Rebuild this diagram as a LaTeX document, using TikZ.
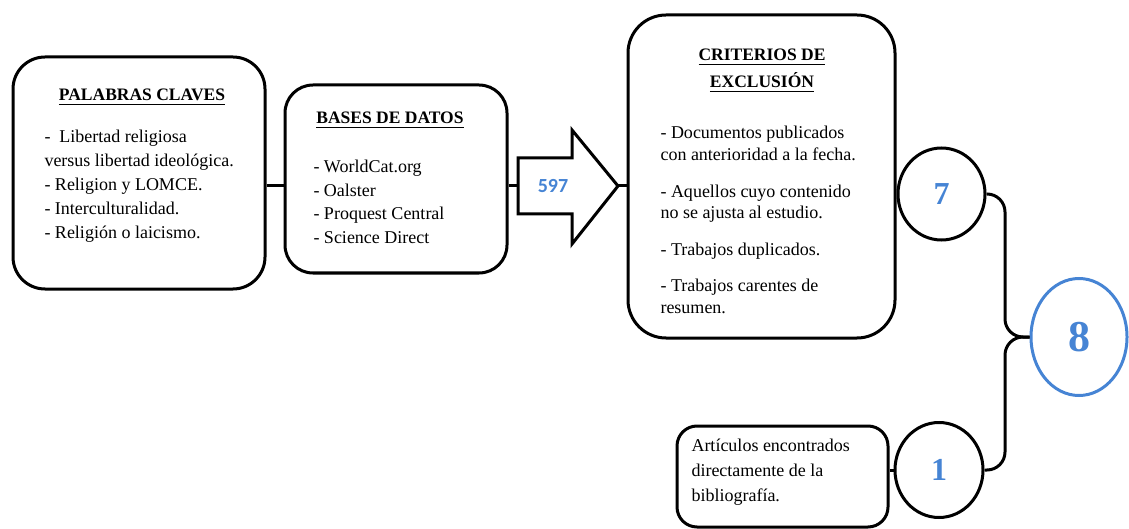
\documentclass[tikz,border=0pt]{standalone}
\usepackage{fontspec}
\setmainfont{Liberation Serif}
\newfontfamily\numfont{Carlito}
\usetikzlibrary{positioning,shapes.geometric}
\definecolor{numblue}{RGB}{70,132,212}
\newcommand\hdline[1]{\leavevmode\vtop{\hbox{#1}\kern2.5pt\hrule height 1.3pt}}

\begin{document}
\begin{tikzpicture}
% Style
[
    x=1pt, y=-1pt, line width=3pt,
    font=\fontsize{18}{22}\selectfont,
    box/.style={draw, shape=rectangle, rounded corners=#1, inner sep=0pt},
    head/.style={font=\fontsize{17.5}{22}\selectfont\bfseries, anchor=base, inner sep=0pt},
    item/.style={anchor=base west, inner sep=0pt},
    count/.style={draw, shape=ellipse, inner sep=0pt, text=numblue,
        font=\fontsize{#1}{#1}\selectfont\bfseries}
]

\useasboundingbox (0,0) rectangle (1129,529);

%=================================== Boxes ===================================
{
    \node[box=32pt, minimum width=252pt, minimum height=232pt] (kw) at (139,173) {};
    \node[box=28pt, minimum width=222pt, minimum height=188pt] (db) at (396,179) {};
    \node[box=38pt, minimum width=267pt, minimum height=323pt] (ex) at (761.5,176.5) {};
    \node[box=20pt, minimum width=211pt, minimum height=101pt] (art) at (782.5,476.5) {};

    \node[head] (kw-head) at (142,101) {\hdline{PALABRAS CLAVES}};
    \node[head] (db-head) at (390,124) {\hdline{BASES DE DATOS}};
    \node[head] (ex-head1) at (762,61) {\hdline{CRITERIOS DE}};
    \node[head] (ex-head2) at (762,88) {\hdline{EXCLUSIÓN}};

    \foreach \t [count=\i] in {{- \ Libertad religiosa}, versus libertad ideológica.,
        - Religion y LOMCE., - Interculturalidad., - Religión o laicismo.} {
        \node[item] (kw-\i) at (43,119+24*\i) {\t};
    }
    \foreach \t [count=\i] in {- WorldCat.org, - Oalster, - Proquest Central, - Science Direct} {
        \node[item] (db-\i) at (312,149.5+23.5*\i) {\t};
    }
    \foreach \y/\t [count=\i] in {139/- Documentos publicados, 161/con anterioridad a la fecha.,
        198/- Aquellos cuyo contenido, 219/no se ajusta al estudio.,
        256/- Trabajos duplicados., 291/- Trabajos carentes de, 313/resumen.} {
        \node[item] (ex-\i) at (659,\y) {\t};
    }
    \foreach \t [count=\i] in {Artículos encontrados, directamente de la, bibliografía.} {
        \node[item] (art-\i) at (690,426+25*\i) {\t};
    }
}
%=================================== Arrow ===================================
{
    \coordinate (ar-tail) at (518,186);
    \coordinate (ar-tip) at (618,186);
    \draw[line join=miter] (ar-tail) -- ++(0,-28) -- ++(54,0) -- ++(0,-28) -- (ar-tip)
        -- ++(-46,58) -- ++(0,-30) -- ++(-54,0) -- cycle;
    \node[text=numblue, font=\numfont\bfseries\fontsize{20}{20}\selectfont] (n597) at (553,186) {597};

    \draw (kw.east |- ar-tail) -- (db.west |- ar-tail);
    \draw (db.east |- ar-tail) -- (ar-tail);
    \draw (ar-tip) -- (ar-tip -| ex.west);
}
%================================== Counts ===================================
{
    \node[count=32, minimum width=87pt, minimum height=92pt] (c7) at (941.5,194) {7};
    \node[count=32, minimum width=88pt, minimum height=95pt] (c1) at (939,470) {1};
    \node[count=44, draw=numblue, minimum width=96pt, minimum height=117pt] (c8) at (1079,337) {8};

    \draw (c7.west -| ex.east) -- (c7.west);
    \draw (c1.west -| art.east) -- (c1.west);

    \coordinate (brace) at (1005,337);
    \draw[rounded corners=18pt] (c7.east) -| (brace) -- (c8.west);
    \draw[rounded corners=18pt] (c1.east) -| (brace) -- (c8.west);
}
%==================================== END ====================================

\end{tikzpicture}
\end{document}
